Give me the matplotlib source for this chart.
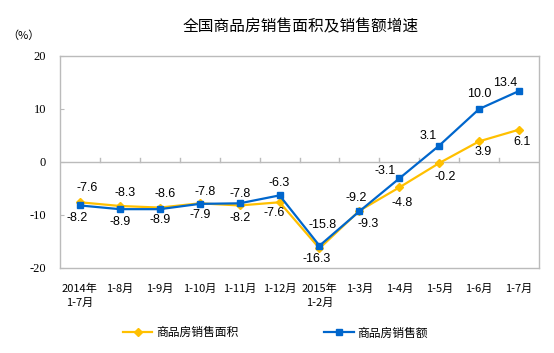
import matplotlib
matplotlib.use('Agg')
import matplotlib.pyplot as plt

plt.rcParams['font.family'] = ['Noto Sans CJK SC', 'DejaVu Sans']

months = ['2014年\n1-7月', '1-8月', '1-9月', '1-10月', '1-11月', '1-12月',
          '2015年\n1-2月', '1-3月', '1-4月', '1-5月', '1-6月', '1-7月']
area = [-7.6, -8.3, -8.6, -7.8, -8.2, -7.6, -16.3, -9.2, -4.8, -0.2, 3.9, 6.1]
amount = [-8.2, -8.9, -8.9, -7.9, -7.8, -6.3, -15.8, -9.3, -3.1, 3.1, 10.0, 13.4]
area_name = '商品房销售面积'
amount_name = '商品房销售额'
yticks = [-20, -10, 0, 10, 20]

# label offsets in points (dx, dy)
area_off = [(5, 10), (4, 9), (4, 10), (4, 8), (0, -9), (-4, -8),
            (-2, -8), (-2, 9), (2, -11), (4, -10), (3, -8), (2, -9)]
amount_off = [(-2, -9), (0, -9), (0, -8), (0, -8), (0, 7), (0, 9),
              (2, 15), (6, -9), (-10, 5), (-8, 7), (0, 11), (-10, 6)]

yellow = '#FFC000'
blue = '#0066CC'

fig = plt.figure(figsize=(5.54, 3.53), dpi=100)
ax = fig.add_axes([0.1083, 0.2408, 0.8647, 0.6006])
x = list(range(len(months)))

ax.plot(x, area, color=yellow, lw=1.6, marker='D', ms=4.5, label=area_name)
ax.plot(x, amount, color=blue, lw=1.6, marker='s', ms=4.5, label=amount_name)

for i in x:
    ax.annotate(f'{area[i]:.1f}', (i, area[i]), xytext=area_off[i],
                textcoords='offset points', ha='center', va='center',
                fontsize=9, family='Liberation Sans')
    ax.annotate(f'{amount[i]:.1f}', (i, amount[i]), xytext=amount_off[i],
                textcoords='offset points', ha='center', va='center',
                fontsize=9, family='Liberation Sans')

ax.set_xlim(-0.5, len(months) - 0.5)
ax.set_ylim(-20, 20)
ax.set_yticks(yticks)
ax.set_yticklabels([str(v) for v in yticks], family='Liberation Serif', fontsize=9)
ax.tick_params(axis='y', direction='in', length=3, color='#BBBBBB', pad=10)
ax.set_xticks([])
for s in ax.spines.values():
    s.set_color('#BBBBBB')
    s.set_linewidth(1)

ax.axhline(0, color='#BBBBBB', lw=1, zorder=0)
for b in range(1, len(months)):
    ax.plot([b - 0.5, b - 0.5], [0, 0.8], color='#BBBBBB', lw=1, zorder=0)

for i, m in enumerate(months):
    ax.text(i, -23.0, m, ha='center', va='top', fontsize=8, linespacing=1.45)

fig.text(0.542, 0.923, '全国商品房销售面积及销售额增速', ha='center', va='center', fontsize=11.3)
fig.text(0.042, 0.898, '（%）', ha='center', va='center', fontsize=8)

leg = fig.legend(loc='center', bbox_to_anchor=(0.497, 0.057), ncol=2, frameon=False,
                 fontsize=8.5, columnspacing=7.3, handlelength=2.5, handletextpad=0.3)

fig.savefig('out.png', dpi=100)
